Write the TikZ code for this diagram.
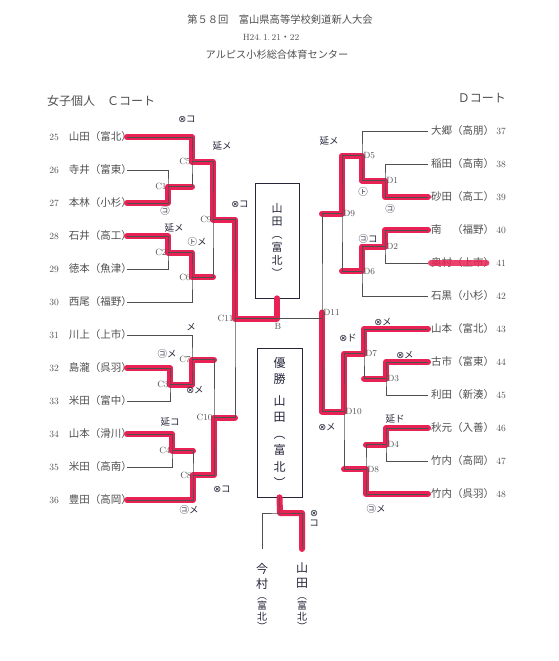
\documentclass[tikz,border=0pt]{standalone}
\usepackage{fontspec}
\newfontfamily\jp{Noto Sans CJK JP}
\newfontfamily\sym{DejaVu Sans}
\usetikzlibrary{positioning}
\definecolor{ink}{HTML}{505050}
\definecolor{pen}{HTML}{26263A}
\definecolor{marker}{RGB}{232,34,84}
\begin{document}
\begin{tikzpicture}[x=1pt,y=-1pt,
    wire/.style={draw=ink,line width=0.6pt},
    pname/.style={font=\jp\fontsize{10.5}{12}\selectfont,text=ink,inner sep=0pt},
    pnum/.style={font=\fontsize{9.5}{10}\selectfont,text=ink,inner sep=0pt},
    mlbl/.style={font=\fontsize{9}{10}\selectfont,text=ink,inner sep=1.2pt},
    hand/.style={font=\jp\fontsize{9.5}{10}\selectfont,text=pen,inner sep=0pt},
    bigbox/.style={draw=pen,line width=0.7pt,align=center,text=pen,inner sep=0pt},
    vname/.style={font=\jp\fontsize{12}{15}\selectfont,text=pen,align=center,inner sep=0pt},
    vsch/.style={font=\jp\fontsize{10}{10.5}\selectfont,text=pen,align=center,inner sep=0pt},
    win/.style={draw=marker,line width=6pt,line join=round,line cap=round}]

\fill[white] (0,0) rectangle (559,661);
\useasboundingbox (0,0) rectangle (559,661);

% heading
\node[font=\jp\fontsize{10.3}{12}\selectfont,text=ink] (title) at (280,20) {第５８回　富山県高等学校剣道新人大会};
\node[font=\fontsize{9}{10}\selectfont,text=ink] (date) at (271,37) {H24.\,1.\,21{\jp ・}22};
\node[font=\jp\fontsize{10.2}{12}\selectfont,text=ink] (hall) at (277,55) {アルピス小杉総合体育センター};
\node[font=\jp\fontsize{12}{13}\selectfont,text=ink,anchor=west,inner sep=0pt] (courtc) at (47,101) {女子個人　Ｃコート};
\node[font=\jp\fontsize{12}{13}\selectfont,text=ink,anchor=east,inner sep=0pt] (courtd) at (506,98) {Ｄコート};

% players, C court
\foreach \n/\who [count=\k from 0] in {25/山田（富北）,26/寺井（富東）,27/本林（小杉）,28/石井（高工）,
    29/徳本（魚津）,30/西尾（福野）,31/川上（上市）,32/島瀧（呉羽）,33/米田（富中）,34/山本（滑川）,
    35/米田（高南）,36/豊田（高岡）}{
  \node[pname,anchor=east] (p\n) at (132,{137+33*\k}) {\who};
  \node[pnum] (n\n) at (54,{137+33*\k}) {\n};
  \coordinate (l\n) at ([xshift=-5pt]p\n.east);
}
% players, D court
\foreach \n/\who [count=\k from 0] in {37/大郷（高朋）,38/稲田（高南）,39/砂田（高工）,40/南　（福野）,
    41/奥村（上市）,42/石黒（小杉）,43/山本（富北）,44/古市（富東）,45/利田（新湊）,46/秋元（入善）,
    47/竹内（高岡）,48/竹内（呉羽）}{
  \node[pname,anchor=west] (p\n) at (431,{131+33*\k}) {\who};
  \node[pnum] (n\n) at (501,{131+33*\k}) {\n};
  \coordinate (r\n) at ([xshift=-3pt]p\n.west);
}

% match points
\coordinate (c1) at (168,186.5);
\coordinate (c5) at (192,161.75);
\coordinate (c2) at (168,252.5);
\coordinate (c6) at (192,277.25);
\coordinate (c9) at (213,219.5);
\coordinate (c3) at (170,384.5);
\coordinate (c7) at (192,359.75);
\coordinate (c4) at (172,450.5);
\coordinate (c8) at (193,475.25);
\coordinate (c10) at (214,417.5);
\coordinate (c11) at (235,318.5);
\coordinate (d1) at (385,180.5);
\coordinate (d5) at (362,155.75);
\coordinate (d2) at (385,246.5);
\coordinate (d6) at (362,271.25);
\coordinate (d9) at (342,213.5);
\coordinate (d3) at (386,378.5);
\coordinate (d7) at (364,353.75);
\coordinate (d4) at (386,444.5);
\coordinate (d8) at (366,469.25);
\coordinate (d10) at (344,411.5);
\coordinate (d11) at (322,312.5);

% result boxes
\node[bigbox,minimum width=44pt,minimum height=115pt,font=\jp\fontsize{11}{13}\selectfont] (ubox) at (277,240.5) {山\\田\\︵\\富\\北\\︶};
\node[bigbox,minimum width=45pt,minimum height=149pt,font=\jp\fontsize{12}{16.5}\selectfont] (champ) at (279.5,422.5) {優\\勝\\[5pt]山\\田\\︵\\富\\北\\︶};

% play-off names
\node[vname] (imam) at (262,576) {今\\村};
\node[vsch,below=8pt of imam] (imamp) {︵\\富\\北\\︶};
\node[vname] (yama) at (302,576) {山\\田};
\node[vsch,below=8pt of yama] (yamap) {︵\\富\\北\\︶};
\coordinate (fin) at (280,513);
\coordinate (imtop) at ([yshift=14pt]imam.north);
\coordinate (yatop) at ([yshift=14pt]yama.north);

% marker (under the print)
\draw[win] (l25) -| (c5) -| (c9) -| (c11) -| (ubox.south);
\draw[win] (l27) -| (c1) -- (c1 -| c5);
\draw[win] (l28) -| (c2) -| (c6) -- (c6 -| c9);
\draw[win] (l32) -| (c3) -| (c7) -- (c7 -| c10);
\draw[win] (l34) -| (c4) -- (c4 -| c8);
\draw[win] (l36) -| (c8) -| (c10) -- (c10 -| c11);
\draw[win] (r39) -| (d1) -| (d5) -| (d9) -- (d9 -| d11);
\draw[win] (r40) -| (d2) -| (d6) -- (d6 -| d9);
\draw[win] (r43) -| (d7) -| (d10) -| (d11);
\draw[win] (r44) -| (d3) -- (d3 -| d7);
\draw[win] (r46) -| (d4) -- (d4 -| d8);
\draw[win] (r48) -| (d8) -- (d8 -| d10);
\draw[win,shorten >=8pt,opacity=0.85] (p41.west) -- (p41.east);
\draw[win] (champ.south) -- (fin) -| (yatop);

% bracket, C court
\draw[wire] (l26) -| (c1) |- (l27);
\draw[wire] (l25) -| (c5) |- (c1);
\draw[wire] (l28) -| (c2) |- (l29);
\draw[wire] (c2) -| (c6) |- (l30);
\draw[wire] (c5) -| (c9) |- (c6);
\draw[wire] (l32) -| (c3) |- (l33);
\draw[wire] (l31) -| (c7) |- (c3);
\draw[wire] (l34) -| (c4) |- (l35);
\draw[wire] (c4) -| (c8) |- (l36);
\draw[wire] (c7) -| (c10) |- (c8);
\draw[wire] (c9) -| (c11) |- (c10);
% bracket, D court
\draw[wire] (r38) -| (d1) |- (r39);
\draw[wire] (r37) -| (d5) |- (d1);
\draw[wire] (r40) -| (d2) |- (r41);
\draw[wire] (d2) -| (d6) |- (r42);
\draw[wire] (d5) -| (d9) |- (d6);
\draw[wire] (r44) -| (d3) |- (r45);
\draw[wire] (r43) -| (d7) |- (d3);
\draw[wire] (r46) -| (d4) |- (r47);
\draw[wire] (d4) -| (d8) |- (r48);
\draw[wire] (d7) -| (d10) |- (d8);
\draw[wire] (d9) -| (d11) |- (d10);
% match B
\draw[wire] (c11) -- (c11 -| d11);
\node[mlbl] (lb) at (278,326) {B};
% play-off
\draw[wire] (champ.south) -- (fin);
\draw[wire] (imtop) |- (fin) -| (yatop);

\foreach \c in {1,...,11}{
  \node[mlbl,anchor=east] (lc\c) at (c\c) {C\c};
  \node[mlbl,anchor=west] (ld\c) at (d\c) {D\c};
}

% hand marks
\node[hand] (m1) at (187,119) {{\sym ⊗}コ};
\node[hand] (m2) at (222,146) {延メ};
\node[hand] (m3) at (165,211) {㋙};
\node[hand] (m4) at (240,204) {{\sym ⊗}コ};
\node[hand] (m5) at (174,228) {延メ};
\node[hand] (m6) at (197,242) {㋣メ};
\node[hand] (m7) at (167,354) {㋙メ};
\node[hand] (m8) at (195,390) {{\sym ⊗}メ};
\node[hand] (m9) at (191,327) {メ};
\node[hand] (m10) at (170,422) {延コ};
\node[hand] (m11) at (222,489) {{\sym ⊗}コ};
\node[hand] (m12) at (189,510) {㋙メ};
\node[hand] (m13) at (329,141) {延メ};
\node[hand] (m14) at (363,192) {㋣};
\node[hand] (m15) at (390,209) {㋙};
\node[hand] (m16) at (368,239) {㋙コ};
\node[hand] (m17) at (383,322) {{\sym ⊗}メ};
\node[hand] (m18) at (348,338) {{\sym ⊗}ド};
\node[hand] (m19) at (405,355) {{\sym ⊗}メ};
\node[hand] (m20) at (327,427) {{\sym ⊗}メ};
\node[hand] (m21) at (395,419) {延ド};
\node[hand] (m22) at (376,509) {㋙メ};
\node[hand,align=center] (m23) at (314,518) {{\sym ⊗}\\コ};
\end{tikzpicture}
\end{document}
